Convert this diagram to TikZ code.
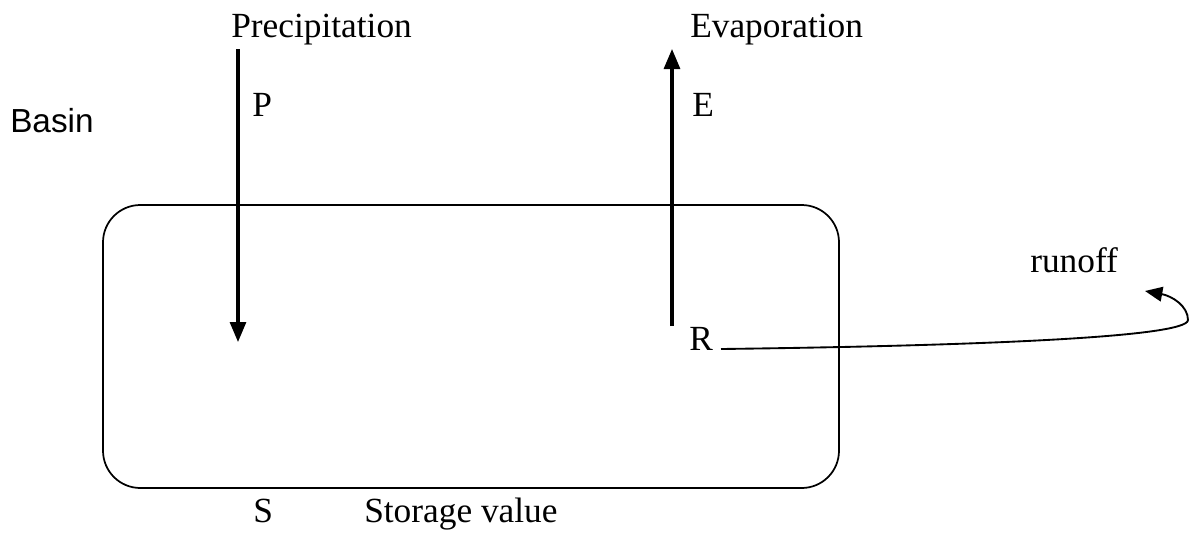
\documentclass[tikz,border=0pt]{standalone}
\usepackage{fontspec}
\setmainfont{Liberation Serif}
\newfontfamily\arialf{Liberation Sans}
\usetikzlibrary{arrows.meta}
\begin{document}
\begin{tikzpicture}[x=0.75pt,y=-0.75pt,
  lbl/.style={anchor=base west,inner sep=0pt,font=\fontsize{26.5}{30}\selectfont},
  flow/.style={line width=2.3pt,-{Triangle[length=15pt,width=12pt]}},
  thin/.style={line width=1.3pt}]
\useasboundingbox (0,0) rectangle (1189,533);
\draw[thin,rounded corners=28pt] (103,205) rectangle (839,488);
\node[lbl] (prec) at (231,37) {Precipitation};
\node[lbl] (evap) at (690,37) {Evaporation};
\node[lbl] (p) at (252,116) {P};
\node[lbl] (e) at (692,116) {E};
\node[lbl] (r) at (689,350) {R};
\node[lbl] (s) at (253,522) {S};
\node[lbl] (stor) at (364,522) {Storage value};
\node[lbl] (run) at (1030,272) {runoff};
\node[lbl,font=\arialf\fontsize{25}{30}\selectfont] (basin) at (10,132) {Basin};
\coordinate (ptop) at (238,49);
\coordinate (pbot) at (238,342);
\coordinate (ebot) at (672,326);
\coordinate (etop) at (672,49);
\coordinate (rs) at (721,349);
\coordinate (rend) at (1145,291);
\draw[flow] (ptop) -- (pbot);
\draw[flow] (ebot) -- (etop);
\draw[line width=1.4pt,-{Triangle[length=13pt,width=11pt]}] (rs) .. controls (960,346) and (1188,338) .. (1188,320) .. controls (1188,306) and (1172,296) .. (rend);
\end{tikzpicture}
\end{document}
